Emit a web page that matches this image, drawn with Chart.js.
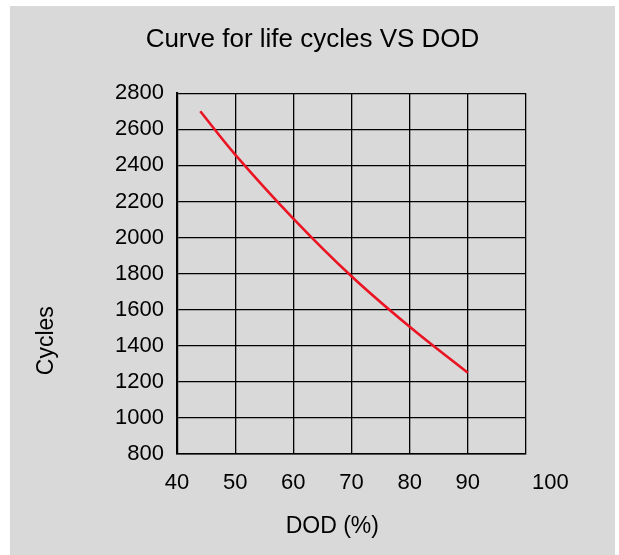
<!DOCTYPE html>
<html>
<head>
<meta charset="utf-8">
<title>Curve for life cycles VS DOD</title>
<script src="https://cdn.jsdelivr.net/npm/chart.js@4.4.0/dist/chart.umd.min.js"></script>
<style>
    html, body { margin: 0; padding: 0; background: #ffffff; }
    #painel {
        position: absolute;
        left: 10px;
        top: 6px;
        width: 605px;
        height: 549px;
        background: #d9d9d9;
    }
</style>
</head>
<body>
<div id="painel">
    <canvas id="grafico"></canvas>
</div>
<script>
// valores
const dod = [44, 50, 60, 70, 80, 90];
const ciclos = [2700, 2460, 2105, 1785, 1505, 1250];
const eixoX = { min: 40, max: 100, passo: 10 };
const eixoY = { min: 800, max: 2800, passo: 200 };

const TITULO = 'Curve for life cycles VS DOD';
const TITULO_X = 'DOD (%)';
const TITULO_Y = 'Cycles';

const FONTE = 'Arial, "Liberation Sans", sans-serif';

// espaços não separáveis para deslocar textos como na figura original
const nbsp = (n) => '\u00a0'.repeat(n);

window.addEventListener('load', function() {
    const ctx = document.getElementById('grafico').getContext('2d');

    new Chart(ctx, {
        type: 'line',
        data: {
            datasets: [{
                data: dod.map((x, i) => ({ x: x, y: ciclos[i] })),
                borderColor: 'rgb(235, 20, 35)',
                borderWidth: 2.6,
                pointRadius: 0,
                tension: 0.4,
                fill: false
            }]
        },
        options: {
            responsive: true,
            maintainAspectRatio: false,
            animation: false,
            layout: { padding: 0 },
            plugins: {
                legend: { display: false },
                tooltip: { enabled: false },
                title: {
                    display: true,
                    text: TITULO,
                    color: '#000',
                    font: { family: FONTE, size: 26, weight: 'normal' },
                    padding: { top: 18, bottom: 38 }
                }
            },
            scales: {
                x: {
                    type: 'linear',
                    min: eixoX.min,
                    max: eixoX.max,
                    grid: { color: '#000', lineWidth: 1.3, drawTicks: false },
                    border: { color: '#000', width: 1.5 },
                    ticks: {
                        stepSize: eixoX.passo,
                        autoSkip: false,
                        maxRotation: 0,
                        minRotation: 0,
                        padding: 16,
                        color: '#000',
                        font: { family: FONTE, size: 22 },
                        callback: (v) => v === 100 ? nbsp(8) + '100' : String(v)
                    },
                    title: {
                        display: true,
                        text: TITULO_X + nbsp(6),
                        color: '#000',
                        font: { family: FONTE, size: 23 },
                        padding: { top: 4, bottom: 15 }
                    },
                    afterFit: (s) => { s.height = 101; }
                },
                y: {
                    min: eixoY.min,
                    max: eixoY.max,
                    grid: { color: '#000', lineWidth: 1.3, drawTicks: false },
                    border: { color: '#000', width: 2.2 },
                    ticks: {
                        stepSize: eixoY.passo,
                        padding: 13,
                        color: '#000',
                        font: { family: FONTE, size: 22 },
                        callback: (v) => String(v)
                    },
                    title: {
                        display: true,
                        text: TITULO_Y + nbsp(21),
                        color: '#000',
                        font: { family: FONTE, size: 23 },
                        padding: { top: 23, bottom: 4 }
                    },
                    afterFit: (s) => { s.width = 167; }
                },
                // eixo vazio só para reservar a margem da direita
                direita: {
                    axis: 'y',
                    position: 'right',
                    grid: { display: false },
                    border: { display: false },
                    ticks: { display: false },
                    afterFit: (s) => { s.width = 89; }
                }
            }
        }
    });
});
</script>
</body>
</html>
